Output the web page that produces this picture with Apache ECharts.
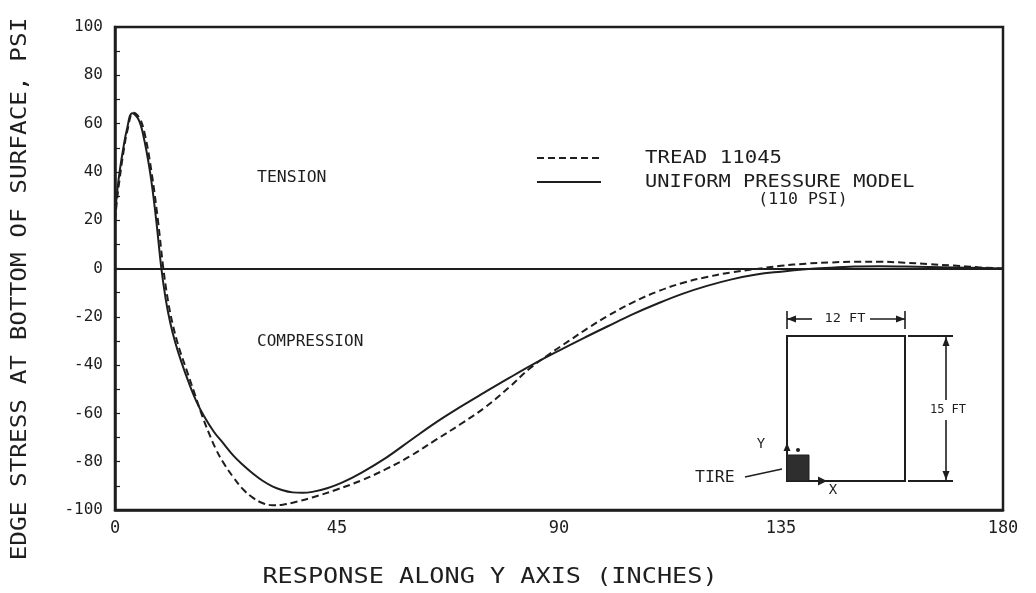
<!DOCTYPE html>
<html>
<head>
<meta charset="utf-8">
<script src="https://cdn.jsdelivr.net/npm/echarts@6/dist/echarts.min.js"></script>
<style>
  html, body { margin: 0; padding: 0; background: #ffffff; }
  #chart { width: 1036px; height: 593px; }
</style>
</head>
<body>
<div id="chart"></div>
<script>
// Edge stress at bottom of surface (psi) vs. distance along the Y axis (inches)
const xTicks = [0, 45, 90, 135, 180];
const yTicks = [-100, -80, -60, -40, -20, 0, 20, 40, 60, 80, 100];

// Tread 11045 (dashed)
const treadX = [0, 0.5, 1, 1.7, 2.5, 3.7, 4.9, 6, 7.4, 8.7, 9.8, 10.8, 11.8, 13, 14.5, 16, 17.5,
  19, 20.5, 22, 24, 26, 28, 30, 32, 34, 36, 40, 45, 50, 55, 60, 65, 70, 75, 80, 84, 88, 92, 96,
  100, 105, 110, 115, 120, 125, 130, 135, 140, 145, 150, 155, 160, 165, 170, 175, 180];
const treadY = [20, 30, 38, 48, 57, 64.5, 62.5, 56, 40, 20, 0, -14, -24, -33, -42, -51, -60,
  -68, -75, -80.5, -86.5, -91.5, -95, -97.2, -98, -97.8, -97, -94.8, -91.5, -87.7, -83, -77.5, -71, -64.5, -57.5, -49, -41.5, -35.5, -30, -24.5,
  -19.5, -14, -9.5, -6, -3.5, -1.6, -0.2, 1.1, 2, 2.5, 2.8, 2.8, 2.4, 1.8, 1.2, 0.5, 0];

// Uniform pressure model, 110 psi (solid)
const uniformX = [0, 0.5, 1, 1.7, 2.4, 3.5, 4.7, 5.7, 7.1, 8.3, 9.4, 10.3, 11.2, 12.2, 13.5, 15,
  16.5, 18, 20, 22, 24, 26, 28, 30, 32, 34, 36, 38, 40, 43, 46, 50, 55, 60, 65, 70, 75, 80, 85,
  90, 95, 100, 105, 110, 115, 120, 125, 130, 135, 140, 143, 150, 155, 160, 170, 180];
const uniformY = [22, 33, 41, 50, 57.5, 64.3, 62, 55.5, 40, 21, 0, -13, -22.5, -30.5, -39, -47.5,
  -55, -61, -67.5, -72.5, -77.5, -81.5, -85, -88, -90.3, -91.8, -92.7, -92.9, -92.5, -91, -88.7, -84.5, -78.3, -71, -63.8, -57.3, -51.2, -45.2, -39.4,
  -34, -28.8, -23.8, -18.9, -14.5, -10.5, -7.2, -4.5, -2.5, -1.3, -0.3, 0.1, 0.8, 0.9, 0.8, 0.4, 0];

const pairs = (xs, ys) => xs.map((x, i) => [x, ys[i]]);

const INK = '#1e1e1e';
const MONO = "'DejaVu Sans Mono', monospace";

function txt(text, x, y, size, opts) {
  opts = opts || {};
  return {
    type: 'text', x: x, y: y, silent: true,
    rotation: opts.rotation || 0,
    scaleX: opts.scaleX || 1,
    style: {
      text: text, fill: INK,
      font: size + 'px ' + MONO,
      align: opts.align || 'left',
      verticalAlign: 'middle'
    }
  };
}
function seg(x1, y1, x2, y2, w, dash) {
  return {
    type: 'line', silent: true,
    shape: { x1: x1, y1: y1, x2: x2, y2: y2 },
    style: { stroke: INK, lineWidth: w || 1.6, lineDash: dash || null }
  };
}
function tri(points) {
  return { type: 'polygon', silent: true, shape: { points: points }, style: { fill: INK } };
}

const chart = echarts.init(document.getElementById('chart'), null, { renderer: 'canvas' });

chart.setOption({
  backgroundColor: '#ffffff',
  animation: false,
  grid: {
    left: 115, right: 33, top: 27, bottom: 83,
    show: true, borderColor: INK, borderWidth: 2.5, backgroundColor: 'transparent'
  },
  xAxis: {
    type: 'value', min: xTicks[0], max: xTicks[xTicks.length - 1], interval: 45,
    axisLine: { show: true, onZero: false, lineStyle: { color: INK, width: 2.5 } },
    axisTick: { show: false },
    splitLine: { show: false },
    axisLabel: {
      color: INK, fontFamily: MONO, fontSize: 17, margin: 10,
      formatter: v => (xTicks.indexOf(v) >= 0 ? String(v) : '')
    }
  },
  yAxis: {
    type: 'value', min: yTicks[0], max: yTicks[yTicks.length - 1], interval: 10,
    axisLine: { show: true, lineStyle: { color: INK, width: 2.5 } },
    axisTick: { show: true, inside: true, length: 5, lineStyle: { color: INK, width: 1.2 } },
    splitLine: { show: false },
    axisLabel: {
      color: INK, fontFamily: MONO, fontSize: 16, margin: 12,
      formatter: v => (yTicks.indexOf(v) >= 0 ? String(v) : '')
    }
  },
  series: [
    {
      name: 'TREAD 11045', type: 'line', smooth: 0.4, showSymbol: false,
      data: pairs(treadX, treadY),
      lineStyle: { color: INK, width: 2, type: [7, 4] },
      z: 3
    },
    {
      name: 'UNIFORM PRESSURE MODEL', type: 'line', smooth: 0.4, showSymbol: false,
      data: pairs(uniformX, uniformY),
      lineStyle: { color: INK, width: 2 },
      z: 4,
      markLine: {
        silent: true, symbol: 'none', label: { show: false },
        lineStyle: { color: INK, width: 2.2, type: 'solid' },
        data: [{ yAxis: 0 }]
      }
    }
  ],
  graphic: [
    // axis titles
    txt('EDGE STRESS AT BOTTOM OF SURFACE, PSI', 21, 289, 21, { rotation: Math.PI / 2, align: 'center', scaleX: 1.16 }),
    txt('RESPONSE ALONG Y AXIS (INCHES)', 490, 578, 21, { align: 'center', scaleX: 1.2 }),

    // key
    seg(537, 158, 601, 158, 2, [7, 4]),
    txt('TREAD 11045', 645, 158, 18, { scaleX: 1.15 }),
    seg(537, 182, 601, 182, 2),
    txt('UNIFORM PRESSURE MODEL', 645, 182, 18, { scaleX: 1.13 }),
    txt('(110 PSI)', 803, 200, 15, { align: 'center', scaleX: 1.1 }),

    // regions
    txt('TENSION', 257, 178, 15, { scaleX: 1.1 }),
    txt('COMPRESSION', 257, 342, 15, { scaleX: 1.07 }),

    // slab plan: 12 ft x 15 ft with tire at the corner
    { type: 'rect', silent: true, shape: { x: 787, y: 336, width: 118, height: 145 },
      style: { fill: 'none', stroke: INK, lineWidth: 2 } },
    seg(787, 311, 787, 329, 1.6),
    seg(905, 311, 905, 329, 1.6),
    seg(787, 319, 812, 319, 1.6),
    tri([[787, 319], [796, 315.5], [796, 322.5]]),
    seg(870, 319, 905, 319, 1.6),
    tri([[905, 319], [896, 315.5], [896, 322.5]]),
    txt('12 FT', 845, 319, 13, { align: 'center', scaleX: 1.05 }),

    seg(908, 336, 953, 336, 2),
    seg(908, 481, 953, 481, 2),
    seg(946, 336, 946, 400, 1.6),
    seg(946, 420, 946, 481, 1.6),
    tri([[946, 337], [942.5, 346], [949.5, 346]]),
    tri([[946, 480], [942.5, 471], [949.5, 471]]),
    txt('15 FT', 948, 410, 12, { align: 'center' }),

    { type: 'rect', silent: true, shape: { x: 787, y: 455, width: 22, height: 26 },
      style: { fill: '#2e2e2e', stroke: INK, lineWidth: 1 } },
    seg(787, 455, 787, 448, 1.6),
    tri([[787, 443], [783.5, 451], [790.5, 451]]),
    { type: 'circle', silent: true, shape: { cx: 798, cy: 450, r: 2 }, style: { fill: INK } },
    txt('Y', 761, 444, 14, { align: 'center' }),
    seg(809, 481, 820, 481, 2),
    tri([[827, 481], [818, 476.5], [818, 485.5]]),
    txt('X', 833, 490, 14, { align: 'center' }),
    seg(745, 477, 782, 469, 1.4),
    txt('TIRE', 695, 478, 15, { scaleX: 1.1 })
  ]
});
</script>
</body>
</html>
